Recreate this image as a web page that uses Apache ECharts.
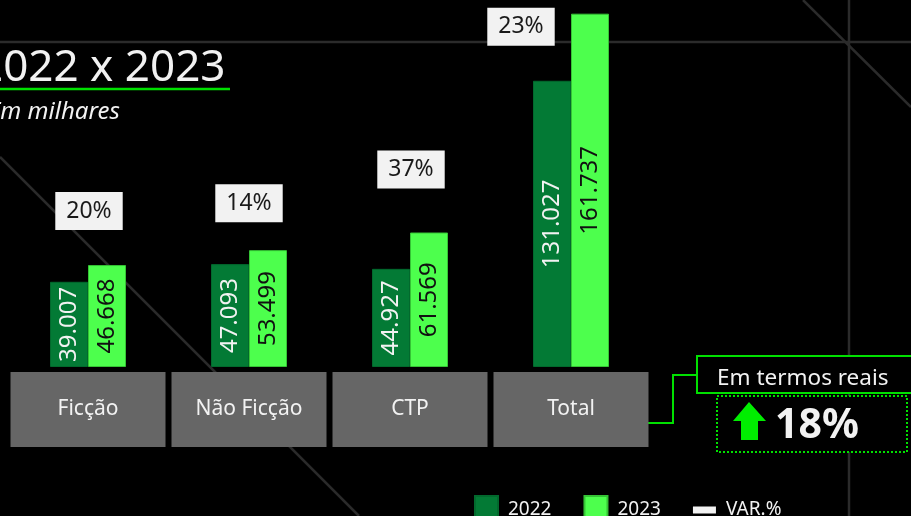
<!DOCTYPE html>
<html>
<head>
    <meta charset="utf-8">
    <script src="https://cdn.jsdelivr.net/npm/echarts@6/dist/echarts.min.js"></script>
    <style>
        html, body { margin: 0; padding: 0; background: #000; }
    </style>
</head>
<body>
<div id="main" style="width: 911px;height:516px;"></div>
<script type="text/javascript">
    // dados em milhares
    var categories = ['Ficção', 'Não Ficção', 'CTP', 'Total'];
    var values2022 = [39007, 47093, 44927, 131027];
    var values2023 = [46668, 53499, 61569, 161737];
    var variation = [20, 14, 37, 23];
    var realGrowth = 18;

    var FONT = 'Noto Sans';
    var GREEN = '#00e000';

    function fmt(v) {
        var s = String(v % 1000);
        while (s.length < 3) s = '0' + s;
        return Math.floor(v / 1000) + '.' + s;
    }

    var myChart = echarts.init(document.getElementById('main'));

    // posicao das caixas de VAR.% (deslocamento do label)
    var varOffsets = [[1, -35], [0, -28], [1, -44], [-50, 32]];

    var bgLine = {stroke: '#2b2b2b', lineWidth: 2.5};

    option = {
        backgroundColor: '#000',
        textStyle: {fontFamily: FONT},
        legend: {
            left: 474,
            top: 495,
            padding: 0,
            itemWidth: 23,
            itemHeight: 28,
            itemGap: 32,
            textStyle: {color: '#f2f2f2', fontSize: 19, fontFamily: FONT, padding: [0, 0, 0, 5]},
            data: [
                {name: '2022', icon: 'rect'},
                {name: '2023', icon: 'rect'},
                {name: 'VAR.%', icon: 'path://M0,0h23v7h-23z', itemStyle: {color: '#f2f2f2', opacity: 1}}
            ]
        },
        grid: {left: 7.5, right: 259.5, top: 0, bottom: 149},
        xAxis: {
            type: 'category',
            data: categories,
            axisLine: {show: false},
            axisTick: {show: false},
            axisLabel: {
                interval: 0,
                margin: 5,
                width: 155,
                height: 75,
                lineHeight: 75,
                align: 'center',
                backgroundColor: '#666666',
                color: '#f2f2f2',
                fontSize: 21,
                fontFamily: FONT
            }
        },
        yAxis: {
            type: 'value',
            min: 0,
            max: 168000,
            show: false,
            splitLine: {show: false}
        },
        graphic: [
            {type: 'line', z: -10, shape: {x1: 0, y1: 42, x2: 911, y2: 42}, style: bgLine},
            {type: 'line', z: -10, shape: {x1: 849, y1: 0, x2: 849, y2: 516}, style: bgLine},
            {type: 'line', z: -10, shape: {x1: 803, y1: 0, x2: 911, y2: 107}, style: bgLine},
            {type: 'line', z: -10, shape: {x1: 0, y1: 157, x2: 359, y2: 516}, style: bgLine},
            // titulo
            {type: 'text', x: -22, y: 68,
                style: {text: '2022 x 2023', fill: '#f2f2f2', fontSize: 44, fontFamily: FONT, verticalAlign: 'middle'}},
            {type: 'line', shape: {x1: 0, y1: 89, x2: 230, y2: 89}, style: {stroke: GREEN, lineWidth: 2.5}},
            {type: 'text', x: -12, y: 112,
                style: {text: 'Em milhares', fill: '#f2f2f2', fontSize: 24, fontStyle: 'italic', fontFamily: FONT, verticalAlign: 'middle'}},
            // caixa "Em termos reais"
            {type: 'polyline', shape: {points: [[648, 423], [673, 423], [673, 375], [697, 375]]},
                style: {stroke: GREEN, lineWidth: 2, fill: null}},
            {type: 'rect', shape: {x: 697, y: 356, width: 240, height: 37},
                style: {stroke: GREEN, lineWidth: 2, fill: '#000'}},
            {type: 'text', x: 717, y: 379,
                style: {text: 'Em termos reais', fill: '#f2f2f2', fontSize: 22.5, fontFamily: FONT, verticalAlign: 'middle'}},
            {type: 'rect', shape: {x: 717, y: 396, width: 190, height: 56},
                style: {stroke: GREEN, lineWidth: 2, lineDash: [2, 2], fill: '#000'}},
            {type: 'polygon', shape: {points: [[749, 402], [766, 421], [758, 421], [758, 440], [741, 440], [741, 421], [733, 421]]},
                style: {fill: '#00ee00'}},
            {type: 'text', x: 775, y: 426,
                style: {text: realGrowth + '%', fill: '#f2f2f2', fontSize: 41, fontWeight: 'bold', fontFamily: FONT, verticalAlign: 'middle'}}
        ],
        series: [
            {
                name: '2022',
                type: 'bar',
                barWidth: 38,
                barGap: '0%',
                itemStyle: {color: '#037a35', borderColor: '#02692d', borderWidth: 1},
                label: {
                    show: true,
                    position: 'inside',
                    rotate: 90,
                    color: '#f2f2f2',
                    fontSize: 24,
                    fontFamily: FONT,
                    formatter: function (p) { return fmt(p.value); }
                },
                data: values2022
            },
            {
                name: '2023',
                type: 'bar',
                barWidth: 38,
                barGap: '0%',
                itemStyle: {color: '#4dff4d', borderColor: '#35c335', borderWidth: 1},
                label: {
                    show: true,
                    position: 'inside',
                    rotate: 90,
                    color: '#111',
                    fontSize: 24,
                    fontFamily: FONT,
                    formatter: function (p) { return fmt(p.value); }
                },
                data: values2023
            },
            {
                name: 'VAR.%',
                type: 'scatter',
                symbolSize: 0,
                itemStyle: {color: '#f2f2f2', opacity: 1},
                z: 5,
                label: {
                    show: true,
                    position: 'top',
                    distance: 0,
                    backgroundColor: '#f2f2f2',
                    padding: [7, 11, 7, 11],
                    lineHeight: 24,
                    color: '#1a1a1a',
                    fontSize: 23,
                    fontFamily: FONT,
                    formatter: function (p) { return variation[p.dataIndex] + '%'; }
                },
                data: categories.map(function (c, i) {
                    return {
                        value: Math.max(values2022[i], values2023[i]),
                        label: {offset: varOffsets[i]}
                    };
                })
            }
        ]
    };

    myChart.setOption(option);
</script>
</body>
</html>
